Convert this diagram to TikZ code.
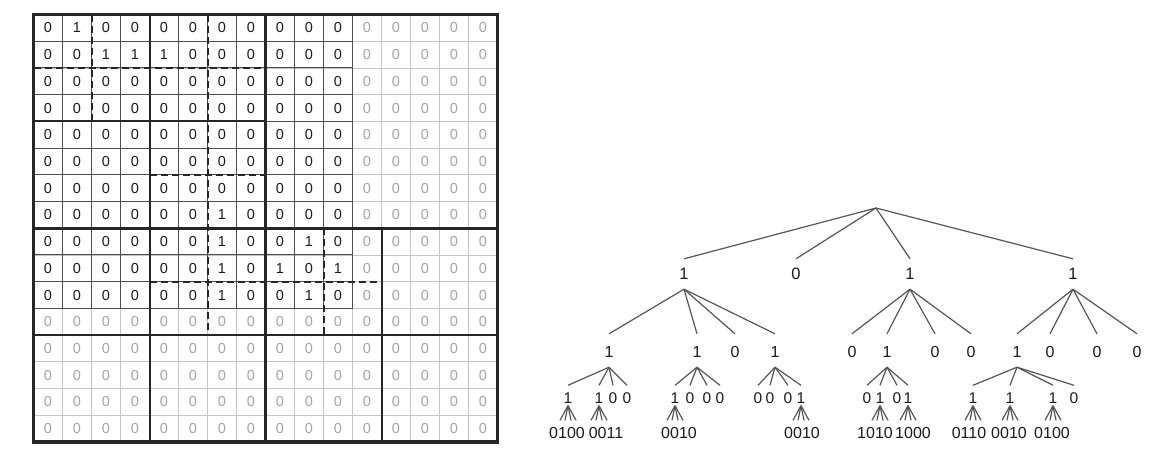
\documentclass[tikz,border=0pt]{standalone}
\usepackage{fontspec}
\setmainfont{Liberation Sans}
\usetikzlibrary{calc}
\definecolor{ink}{HTML}{1A1A1A}
\definecolor{padink}{HTML}{A4A4A4}
\definecolor{padline}{HTML}{C4C4C4}
\definecolor{cellline}{HTML}{4E4E4E}
\definecolor{edgegray}{HTML}{555555}

\begin{document}
\begin{tikzpicture}[x=1pt,y=-1pt,
  cell/.style={inner sep=0pt,font=\fontsize{14.5}{15}\selectfont,text=ink},
  padcell/.style={cell,text=padink},
  thingrid/.style={padline,line width=0.8pt},
  cellgrid/.style={cellline,line width=1pt},
  quadline/.style={black!85,line width=2pt},
  halfline/.style={black!85,line width=3pt},
  dashline/.style={black!85,line width=2pt,dash pattern=on 7pt off 4pt},
  edge/.style={edgegray,line width=1.2pt},
  tA/.style={anchor=base,inner sep=0pt,text height=20pt,text depth=10pt,text=ink,font=\fontsize{16.5}{17}\selectfont},
  tB/.style={anchor=base,inner sep=0pt,text height=23.5pt,text depth=9.5pt,text=ink,font=\fontsize{16}{16}\selectfont},
  tC/.style={anchor=base,inner sep=0pt,text height=18pt,text depth=2pt,text=ink,font=\fontsize{15.5}{16}\selectfont},
  tD/.style={anchor=base,inner sep=0pt,text height=17.5pt,text depth=0pt,text=ink,font=\fontsize{16}{16}\selectfont}]
\useasboundingbox (0,0) rectangle (1166,474);

\begin{scope}[xshift=33.5pt,yshift=-14.5pt,x=29pt,y=-26.72pt]
\foreach \i in {0,...,16} {\draw[thingrid] (\i,0) -- (\i,16); \draw[thingrid] (0,\i) -- (16,\i);}
\foreach \i in {0,...,11} {\draw[cellgrid] (\i,0) -- (\i,11); \draw[cellgrid] (0,\i) -- (11,\i);}
\draw[quadline] (4,0) -- (4,16); \draw[quadline] (0,4) -- (8,4);
\draw[quadline] (0,12) -- (16,12); \draw[quadline] (12,8) -- (12,16);
\draw[dashline] (2,0) -- (2,4); \draw[dashline] (0,2) -- (8,2);
\draw[dashline] (6,0) -- (6,12); \draw[dashline] (4,6) -- (8,6);
\draw[dashline] (4,10) -- (12,10); \draw[dashline] (10,8) -- (10,12);
\draw[halfline] (8,0) -- (8,16); \draw[halfline] (0,8) -- (16,8);
\draw[black!85,line width=3.5pt] (0,0) rectangle (16,16);
\foreach \row [count=\r from 0] in {{0,1,0,0,0,0,0,0,0,0,0},{0,0,1,1,1,0,0,0,0,0,0},
  {0,0,0,0,0,0,0,0,0,0,0},{0,0,0,0,0,0,0,0,0,0,0},{0,0,0,0,0,0,0,0,0,0,0},
  {0,0,0,0,0,0,0,0,0,0,0},{0,0,0,0,0,0,0,0,0,0,0},{0,0,0,0,0,0,1,0,0,0,0},
  {0,0,0,0,0,0,1,0,0,1,0},{0,0,0,0,0,0,1,0,1,0,1},{0,0,0,0,0,0,1,0,0,1,0}}
  \foreach \v [count=\c from 0] in \row \node[cell] (m-\r-\c) at (\c+0.5,\r+0.5) {\v};
\foreach \r in {0,...,10} \foreach \c in {11,...,15} \node[padcell] (m-\r-\c) at (\c+0.5,\r+0.5) {0};
\foreach \r in {11,...,15} \foreach \c in {0,...,15} \node[padcell] (m-\r-\c) at (\c+0.5,\r+0.5) {0};
\end{scope}

\coordinate (r) at (876,208);
\node[tA] (a1) at (684,279) {1}; \node[tA] (a2) at (796,279) {0}; \node[tA] (a3) at (910,279) {1}; \node[tA] (a4) at (1073,279) {1};
\foreach \n in {a1,a2,a3,a4} \draw[edge] (r) -- (\n.north);

\node[tB] (b11) at (609,357.5) {1}; \node[tB] (b12) at (697,357.5) {1}; \node[tB] (b13) at (735,357.5) {0}; \node[tB] (b14) at (775,357.5) {1};
\node[tB] (b31) at (852,357.5) {0}; \node[tB] (b32) at (887,357.5) {1}; \node[tB] (b33) at (935,357.5) {0}; \node[tB] (b34) at (971,357.5) {0};
\node[tB] (b41) at (1017,357.5) {1}; \node[tB] (b42) at (1050,357.5) {0}; \node[tB] (b43) at (1097,357.5) {0}; \node[tB] (b44) at (1137,357.5) {0};
\foreach \n in {b11,b12,b13,b14} \draw[edge] (a1.south) -- (\n.north);
\foreach \n in {b31,b32,b33,b34} \draw[edge] (a3.south) -- (\n.north);
\foreach \n in {b41,b42,b43,b44} \draw[edge] (a4.south) -- (\n.north);

\node[tC] (c111) at (568,403.5) {1}; \node[tC] (c112) at (599,403.5) {1}; \node[tC] (c113) at (613,403.5) {0}; \node[tC] (c114) at (627,403.5) {0};
\node[tC] (c121) at (675,403.5) {1}; \node[tC] (c122) at (690,403.5) {0}; \node[tC] (c123) at (707,403.5) {0}; \node[tC] (c124) at (720,403.5) {0};
\node[tC] (c141) at (758,403.5) {0}; \node[tC] (c142) at (770,403.5) {0}; \node[tC] (c143) at (788,403.5) {0}; \node[tC] (c144) at (801,403.5) {1};
\node[tC] (c321) at (867,403.5) {0}; \node[tC] (c322) at (880,403.5) {1}; \node[tC] (c323) at (897,403.5) {0}; \node[tC] (c324) at (908,403.5) {1};
\node[tC] (c411) at (973,403.5) {1}; \node[tC] (c412) at (1010,403.5) {1}; \node[tC] (c413) at (1053,403.5) {1}; \node[tC] (c414) at (1074,403.5) {0};
\foreach \n in {c111,c112,c113,c114} \draw[edge] (b11.south) -- (\n.north);
\foreach \n in {c121,c122,c123,c124} \draw[edge] (b12.south) -- (\n.north);
\foreach \n in {c141,c142,c143,c144} \draw[edge] (b14.south) -- (\n.north);
\foreach \n in {c321,c322,c323,c324} \draw[edge] (b32.south) -- (\n.north);
\foreach \n in {c411,c412,c413,c414} \draw[edge] (b41.south) -- (\n.north);

\node[tD] (d111) at (567,438) {0100}; \node[tD] (d112) at (606,438) {0011};
\node[tD] (d121) at (679,438) {0010}; \node[tD] (d144) at (802,438) {0010};
\node[tD] (d322) at (875,438) {1010}; \node[tD] (d324) at (913,438) {1000};
\node[tD] (d411) at (969,438) {0110}; \node[tD] (d412) at (1009,438) {0010}; \node[tD] (d413) at (1052,438) {0100};
\foreach \p/\q in {c111/d111,c112/d112,c121/d121,c144/d144,c322/d322,c324/d324,c411/d411,c412/d412,c413/d413}
  \foreach \dx in {-8,-3,3,8} \draw[edge] (\p.south) -- ($(\p.south |- \q.north)+(\dx,0)$);
\end{tikzpicture}
\end{document}
